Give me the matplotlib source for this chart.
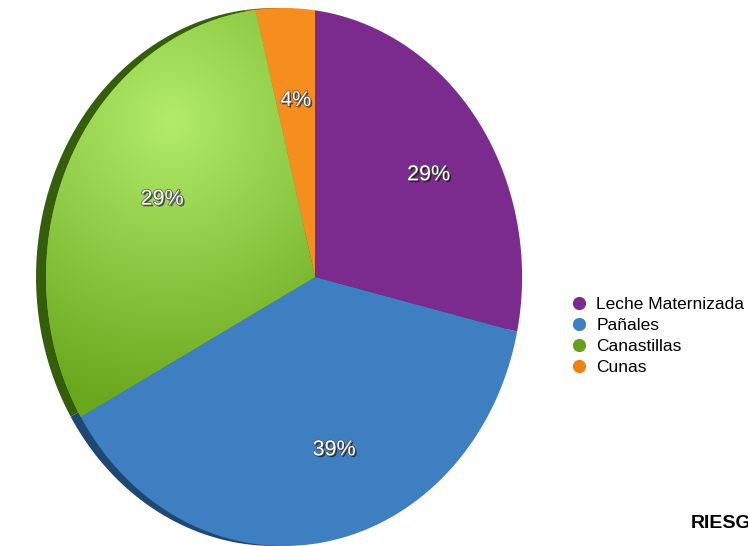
import numpy as np
import matplotlib.pyplot as plt
import matplotlib.patheffects as pe
from matplotlib.patches import Polygon
from matplotlib.lines import Line2D
from matplotlib.colors import to_rgb

categories = ['Leche Maternizada', 'Pañales', 'Canastillas', 'Cunas']
values = [29, 39, 29, 4]
colors = ['#7b2a8e', '#3d7fc0', '#7dbd2f', '#f68d1f']
rim_colors = ['#4a1658', '#1f4772', '#355e0c', '#a65a10']
legend_colors = ['#7d2a90', '#3e80c1', '#62a01d', '#f07f13']

plt.rcParams['font.family'] = ['Liberation Sans', 'DejaVu Sans']

fig = plt.figure(figsize=(7.48, 5.46), dpi=100)
ax = fig.add_axes([0, 0, 1, 1])

wedges, texts, autotexts = ax.pie(values, startangle=90, counterclock=False,
                                  colors=colors, autopct='%1.0f%%', pctdistance=0.66,
                                  textprops=dict(color='white', fontsize=15.5))

# perspective of the tilted 3D pie, in pixels
cx, cy = 315, 277
sx, sy, persp = 234, 266.7, 0.13


def project(u, v):
    d = 1 + persp * u
    return cx + sx * u / d, cy - sy * v / d


faces = []
for w, col, rim in zip(wedges, colors, rim_colors):
    th = np.radians(np.linspace(w.theta1, w.theta2, 200))
    u = np.concatenate([[0], w.r * np.cos(th)])
    v = np.concatenate([[0], w.r * np.sin(th)])
    x, y = project(u, v)
    # dark side of the disc
    ax.add_patch(Polygon(np.column_stack([x - 10, y]), closed=True, fc=rim, ec='none', zorder=1))
    face = Polygon(np.column_stack([x, y]), closed=True, fc=col, ec='none', zorder=2)
    ax.add_patch(face)
    faces.append(face)
    w.set_visible(False)

# light from the top left on the green slice
yy, xx = np.mgrid[0:546, 0:748]
t = np.clip(np.hypot(xx - 170, yy - 120) / 290, 0, 1)[..., None]
img = np.array(to_rgb('#b2ec6a')) * (1 - t) + np.array(to_rgb('#69a71e')) * t
im = ax.imshow(img, extent=(0, 748, 546, 0), zorder=2.5)
im.set_clip_path(faces[2])

for t in autotexts:
    t.set_position(project(*t.get_position()))
    t.set_zorder(5)
    t.set_path_effects([pe.SimplePatchShadow(offset=(1.2, -1.2), shadow_rgbFace='black', alpha=0.6),
                        pe.Stroke(linewidth=1, foreground='#555555'), pe.Normal()])

handles = [Line2D([], [], ls='none', marker='o', ms=8.5, mfc=c, mec=c) for c in legend_colors]
fig.legend(handles, categories, loc='upper left', bbox_to_anchor=(572 / 748, 1 - 297 / 546),
           frameon=False, fontsize=12.5, handlelength=0.8, handletextpad=0.6,
           labelspacing=0.33, borderpad=0, borderaxespad=0)

fig.text(691 / 748, 1 - 528 / 546, 'RIESGOS', fontsize=14, fontweight='bold',
         ha='left', va='baseline')

ax.set_xlim(0, 748)
ax.set_ylim(546, 0)
ax.set_aspect('auto')
ax.axis('off')

fig.savefig('out.png', dpi=100)
